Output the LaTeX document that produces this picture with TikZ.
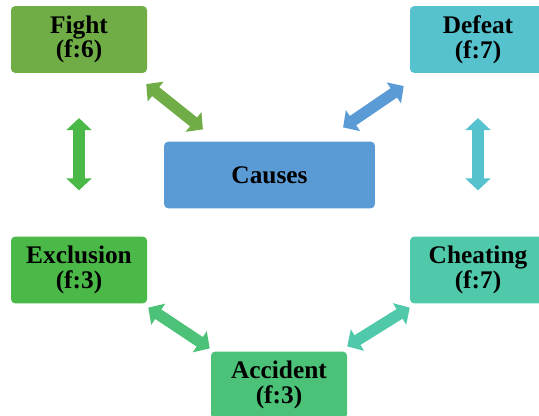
\documentclass[tikz,border=0pt]{standalone}
\usepackage{fontspec}
\setmainfont{Liberation Serif}
\usetikzlibrary{arrows.meta}
\definecolor{fightgreen}{HTML}{70AD47}
\definecolor{defeatteal}{HTML}{56C2CE}
\definecolor{causesblue}{HTML}{5B9BD5}
\definecolor{exclgreen}{HTML}{4AB947}
\definecolor{cheatmint}{HTML}{50C8AA}
\definecolor{accgreen}{HTML}{4CC278}
\begin{document}
\begin{tikzpicture}[x=0.75pt,y=-0.75pt,
  box/.style={rounded corners=3pt,minimum width=102pt,minimum height=50pt,inner sep=0pt,
    align=center,font=\fontsize{19}{18.5}\selectfont\bfseries},
  dbl/.style={line width=8.5pt,{Triangle[width=18.5pt,length=9pt]}-{Triangle[width=18.5pt,length=9pt]}}]
\clip (0,0) rectangle (539,416);
\useasboundingbox (0,0) rectangle (539,416);

\node[box,fill=fightgreen] (fight) at (79,39.5) {Fight\\(f:6)};
\node[box,fill=defeatteal] (defeat) at (478,39.5) {Defeat\\(f:7)};
\node[box,fill=causesblue,minimum width=158pt] (causes) at (269.5,175) {Causes};
\node[box,fill=exclgreen] (exclusion) at (79,270) {Exclusion\\(f:3)};
\node[box,fill=cheatmint] (cheating) at (478,270) {Cheating\\(f:7)};
\node[box,fill=accgreen] (accident) at (279,385) {Accident\\(f:3)};

\draw[dbl,fightgreen] ([shift={(-1,11)}]fight.south east) -- ([shift={(39,-12)}]causes.north west);
\draw[dbl,causesblue] ([shift={(-6,13)}]defeat.south west) -- ([shift={(-32,-14)}]causes.north east);
\draw[dbl,exclgreen] ([shift={(0,45)}]fight.south) -- ([shift={(0,-46)}]exclusion.north);
\draw[dbl,defeatteal] ([shift={(0,45)}]defeat.south) -- ([shift={(0,-46)}]cheating.north);
\draw[dbl,accgreen] ([shift={(1,4)}]exclusion.south east) -- ([shift={(-1,-3)}]accident.north west);
\draw[dbl,cheatmint] ([shift={(0,-5)}]accident.north east) -- ([shift={(0,4)}]cheating.south west);
\end{tikzpicture}
\end{document}
